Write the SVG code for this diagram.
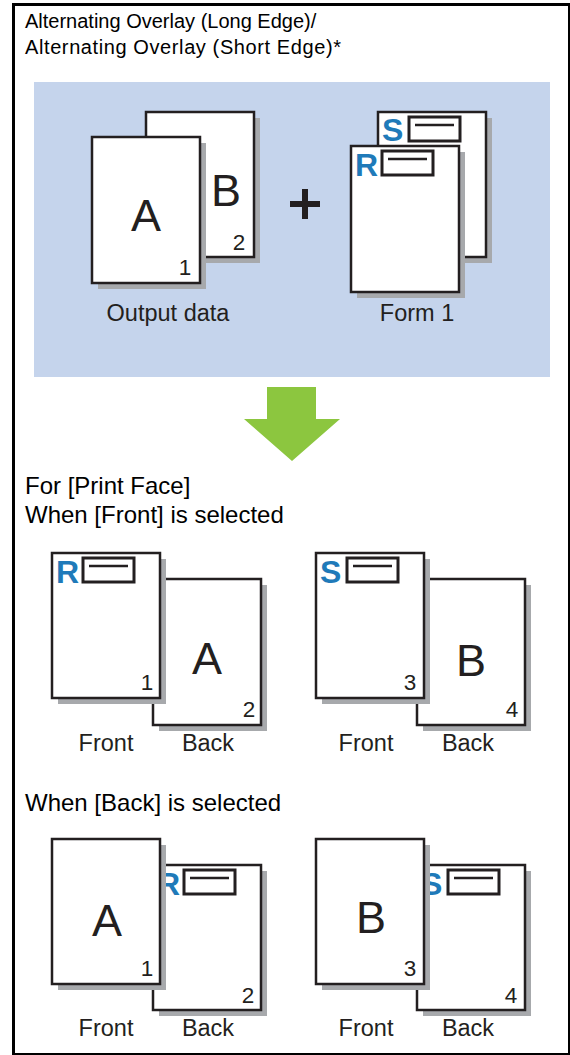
<svg xmlns="http://www.w3.org/2000/svg" width="570" height="1055" viewBox="0 0 570 1055">
<defs>
<style>
.t{font-family:"Liberation Sans",Arial,sans-serif;fill:#000;font-size:20px}
.h{font-family:"Liberation Sans",Arial,sans-serif;fill:#000;font-size:24px}
.lab{font-family:"Liberation Sans",Arial,sans-serif;fill:#231f20;font-size:23.5px;text-anchor:middle}
.big{font-family:"Liberation Sans",Arial,sans-serif;fill:#231f20;font-size:45px;text-anchor:middle}
.num{font-family:"Liberation Sans",Arial,sans-serif;fill:#231f20;font-size:22.5px;text-anchor:middle}
.fl{font-family:"Liberation Sans",Arial,sans-serif;fill:#1f7ab9;font-size:32px;font-weight:bold}
.pg{fill:#fff;stroke:#231f20;stroke-width:2.5}
.sh{fill:#a7a9ac}
.bx{fill:#fff;stroke:#231f20;stroke-width:3}
.ln{stroke:#231f20;stroke-width:2.5}
</style>
</defs>
<rect x="0" y="0" width="570" height="1055" fill="#fff"/>
<g id="frame" stroke="#000" fill="none">
<line x1="12" y1="4.5" x2="570" y2="4.5" stroke-width="3"/>
<line x1="13.5" y1="3" x2="13.5" y2="1055" stroke-width="3"/>
<line x1="12" y1="1054" x2="570" y2="1054" stroke-width="2"/>
<line x1="569" y1="3" x2="569" y2="1055" stroke-width="2"/>
</g>
<g id="title">
<text class="t" x="25" y="28">Alternating Overlay (Long Edge)/</text>
<text class="t" x="25" y="54" textLength="316" lengthAdjust="spacing">Alternating Overlay (Short Edge)*</text>
</g>
<rect id="panel" x="34" y="82" width="516" height="295" fill="#c5d4ec"/>
<g id="output-data">
<rect class="sh" x="152" y="118" width="108" height="145"/>
<rect class="pg" x="146" y="112" width="108" height="145"/>
<text class="big" x="226" y="206">B</text>
<text class="num" x="239" y="250">2</text>
<rect class="sh" x="98" y="143" width="108" height="146"/>
<rect class="pg" x="92" y="137" width="108" height="146"/>
<text class="big" x="146" y="231">A</text>
<text class="num" x="185" y="275">1</text>
<text class="lab" x="168" y="321">Output data</text>
</g>
<g id="plus">
<rect x="290" y="201" width="30" height="6" fill="#231f20"/>
<rect x="302" y="189" width="6" height="30" fill="#231f20"/>
</g>
<g id="form-1">
<rect class="sh" x="384" y="118" width="108" height="145"/>
<rect class="pg" x="378" y="112" width="108" height="145"/>
<text class="fl" x="382" y="141">S</text>
<rect class="bx" x="409" y="117" width="51" height="24"/>
<line class="ln" x1="415" y1="125" x2="454" y2="125"/>
<rect class="sh" x="357" y="152" width="108" height="146"/>
<rect class="pg" x="351" y="146" width="108" height="146"/>
<text class="fl" x="355" y="176">R</text>
<rect class="bx" x="382" y="151" width="51" height="24"/>
<line class="ln" x1="388" y1="159" x2="427" y2="159"/>
<text class="lab" x="417" y="321">Form 1</text>
</g>
<g id="connectors">
<polygon points="267,387 316,387 316,419 340,419 292,461 244,419 267,419" fill="#8cc63f"/>
</g>
<g id="front-heading">
<text class="h" x="25" y="494">For [Print Face]</text>
<text class="h" x="25" y="523">When [Front] is selected</text>
</g>
<g id="front-pair-1">
<rect class="sh" x="159" y="585" width="108" height="146"/>
<rect class="pg" x="153" y="579" width="108" height="146"/>
<text class="big" x="207" y="674">A</text>
<text class="num" x="249" y="717">2</text>
<rect class="sh" x="58" y="559" width="108" height="145"/>
<rect class="pg" x="52" y="553" width="108" height="145"/>
<text class="fl" x="56" y="583">R</text>
<rect class="bx" x="83" y="558" width="51" height="24"/>
<line class="ln" x1="89" y1="566" x2="128" y2="566"/>
<text class="num" x="147" y="690">1</text>
<text class="lab" x="106" y="751">Front</text>
<text class="lab" x="208" y="751">Back</text>
</g>
<g id="front-pair-2">
<rect class="sh" x="423" y="585" width="108" height="146"/>
<rect class="pg" x="417" y="579" width="108" height="146"/>
<text class="big" x="471" y="676">B</text>
<text class="num" x="512" y="717">4</text>
<rect class="sh" x="322" y="559" width="108" height="145"/>
<rect class="pg" x="316" y="553" width="108" height="145"/>
<text class="fl" x="320" y="583">S</text>
<rect class="bx" x="347" y="558" width="51" height="24"/>
<line class="ln" x1="353" y1="566" x2="392" y2="566"/>
<text class="num" x="410" y="690">3</text>
<text class="lab" x="366" y="751">Front</text>
<text class="lab" x="468" y="751">Back</text>
</g>
<g id="back-heading">
<text class="h" x="25" y="811">When [Back] is selected</text>
</g>
<g id="back-pair-1">
<rect class="sh" x="159" y="871" width="108" height="145"/>
<rect class="pg" x="153" y="865" width="108" height="145"/>
<text class="fl" x="157" y="895">R</text>
<rect class="bx" x="184" y="870" width="51" height="24"/>
<line class="ln" x1="190" y1="878" x2="229" y2="878"/>
<text class="num" x="248" y="1003">2</text>
<rect class="sh" x="58" y="845" width="108" height="145"/>
<rect class="pg" x="52" y="839" width="108" height="145"/>
<text class="big" x="107" y="936">A</text>
<text class="num" x="147" y="976">1</text>
<text class="lab" x="106" y="1036">Front</text>
<text class="lab" x="208" y="1036">Back</text>
</g>
<g id="back-pair-2">
<rect class="sh" x="423" y="871" width="108" height="145"/>
<rect class="pg" x="417" y="865" width="108" height="145"/>
<text class="fl" x="421" y="895">S</text>
<rect class="bx" x="448" y="870" width="51" height="24"/>
<line class="ln" x1="454" y1="878" x2="493" y2="878"/>
<text class="num" x="511" y="1003">4</text>
<rect class="sh" x="322" y="845" width="108" height="145"/>
<rect class="pg" x="316" y="839" width="108" height="145"/>
<text class="big" x="371" y="933">B</text>
<text class="num" x="410" y="976">3</text>
<text class="lab" x="366" y="1036">Front</text>
<text class="lab" x="468" y="1036">Back</text>
</g>
</svg>
